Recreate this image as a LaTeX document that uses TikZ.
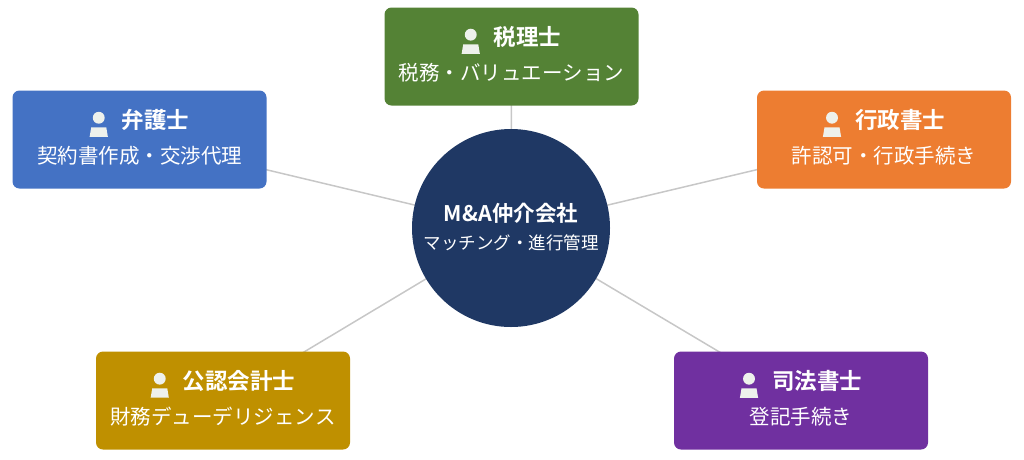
\documentclass[tikz,border=0pt]{standalone}
\usepackage{fontspec}
\setmainfont{Noto Sans CJK JP}
\newfontfamily\jpb{Noto Sans CJK JP Bold}
\definecolor{cgreen}{HTML}{548235}
\definecolor{cblue}{HTML}{4472C4}
\definecolor{corange}{HTML}{ED7D31}
\definecolor{cgold}{HTML}{BF9000}
\definecolor{cpurple}{HTML}{7030A0}
\definecolor{cnavy}{HTML}{1F3864}
\definecolor{iconc}{HTML}{EEF1EC}
\newcommand{\pico}{\tikz[baseline=-3pt,x=1.75pt,y=1.75pt]{\fill[iconc] (0,4.4) circle (3.4);\fill[iconc] (-5.2,-6.5) -- (5.2,-6.5) -- (4.3,-1.1) -- (-4.3,-1.1) -- cycle;}}
\begin{document}
\begin{tikzpicture}[x=1pt,y=-1pt,
  box/.style={fill=#1,rounded corners=7pt,minimum width=254pt,minimum height=98pt,draw=none},
  ttl/.style={text=white,font=\jpb\fontsize{22.5}{26}\selectfont},
  sub/.style={text=white,font=\fontsize{20.5}{24}\selectfont},
  conn/.style={draw=black!22,line width=1.5pt}]
\useasboundingbox (0,0) rectangle (1024,459);
\coordinate (c) at (511,228);
\coordinate (p1) at (511.5,56.5);
\coordinate (p2) at (139.5,139.5);
\coordinate (p3) at (884,139.5);
\coordinate (p4) at (223,400.5);
\coordinate (p5) at (801,400.5);
\draw[conn] (c) -- (p1);
\draw[conn] (c) -- (p2);
\draw[conn] (c) -- (p3);
\draw[conn] (c) -- (p4);
\draw[conn] (c) -- (p5);
\node[box=cgreen] (b1) at (p1) {};
\node[box=cblue] (b2) at (p2) {};
\node[box=corange] (b3) at (p3) {};
\node[box=cgold] (b4) at (p4) {};
\node[box=cpurple] (b5) at (p5) {};
\node[circle,fill=cnavy,minimum size=198pt,inner sep=0] (circ) at (c) {};
\node[ttl,font=\jpb\fontsize{21.5}{24}\selectfont] (c1) at (511,213) {M\&A仲介会社};
\node[sub,font=\fontsize{17.5}{20}\selectfont] (c2) at (511,243) {マッチング・進行管理};
\node[ttl] (t1) at (511.5,40) {\pico\hspace{14pt}税理士};
\node[sub] (s1) at (511.5,73) {税務・バリュエーション};
\node[ttl] (t2) at (139.5,123) {\pico\hspace{14pt}弁護士};
\node[sub] (s2) at (139.5,156) {契約書作成・交渉代理};
\node[ttl] (t3) at (884,123) {\pico\hspace{14pt}行政書士};
\node[sub] (s3) at (884,156) {許認可・行政手続き};
\node[ttl] (t4) at (223,384) {\pico\hspace{14pt}公認会計士};
\node[sub] (s4) at (223,417) {財務デューデリジェンス};
\node[ttl] (t5) at (801,384) {\pico\hspace{14pt}司法書士};
\node[sub] (s5) at (801,417) {登記手続き};
\end{tikzpicture}
\end{document}
